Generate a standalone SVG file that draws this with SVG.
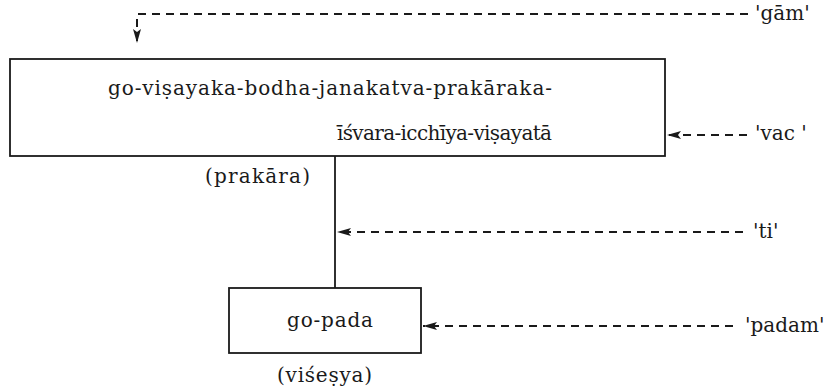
<svg xmlns="http://www.w3.org/2000/svg" width="826" height="392" viewBox="0 0 826 392">
  <style>
    .box { fill: #fff; stroke: #1a1a1a; stroke-width: 1.8; }
    .t { font-family: "DejaVu Serif", "Liberation Serif", serif; font-size: 20px; fill: #1a1a1a; }
    .dash { fill: none; stroke: #1a1a1a; stroke-width: 2; stroke-dasharray: 8 6; }
    .solid { fill: none; stroke: #1a1a1a; stroke-width: 1.8; }
  </style>
  <defs>
    <marker id="head" viewBox="0 0 14 10" refX="14" refY="5" markerWidth="14" markerHeight="10" markerUnits="userSpaceOnUse" orient="auto">
      <path d="M0,1 L14,5 L0,9 L3,5 Z" fill="#1a1a1a"/>
    </marker>
  </defs>
  <rect width="826" height="392" fill="#fff"/>

  <!-- upper node: compound predicate -->
  <g id="node-prakara">
    <rect class="box" x="10" y="59" width="655" height="97"/>
    <text class="t" font-family="DejaVu Serif, Liberation Serif, serif" x="108" y="95" textLength="444" lengthAdjust="spacing">go-viṣayaka-bodha-janakatva-prakāraka-</text>
    <text class="t" font-family="DejaVu Serif, Liberation Serif, serif" x="337" y="140" textLength="215" lengthAdjust="spacing">īśvara-icchīya-viṣayatā</text>
    <text class="t" font-family="DejaVu Serif, Liberation Serif, serif" x="205" y="183" textLength="105" lengthAdjust="spacing">(prakāra)</text>
  </g>

  <!-- lower node -->
  <g id="node-gopada">
    <rect class="box" x="229" y="288" width="192" height="65"/>
    <text class="t" font-family="DejaVu Serif, Liberation Serif, serif" x="287" y="327" textLength="86" lengthAdjust="spacing">go-pada</text>
    <text class="t" font-family="DejaVu Serif, Liberation Serif, serif" x="277" y="382" textLength="95" lengthAdjust="spacing">(viśeṣya)</text>
  </g>

  <!-- morpheme labels -->
  <g id="labels">
    <text class="t" font-family="DejaVu Serif, Liberation Serif, serif" x="755" y="20">'gām'</text>
    <text class="t" font-family="DejaVu Serif, Liberation Serif, serif" x="755" y="140">'vac '</text>
    <text class="t" font-family="DejaVu Serif, Liberation Serif, serif" x="753" y="238">'ti'</text>
    <text class="t" font-family="DejaVu Serif, Liberation Serif, serif" x="745" y="332">'padam'</text>
  </g>

  <g id="connectors">
    <line class="solid" x1="335" y1="156" x2="335" y2="288"/>
    <path class="dash" d="M748,14 H137 V43" marker-end="url(#head)"/>
    <line class="dash" x1="747" y1="135" x2="667" y2="135" marker-end="url(#head)"/>
    <line class="dash" x1="743" y1="232" x2="337" y2="232" marker-end="url(#head)"/>
    <line class="dash" x1="733" y1="326" x2="423" y2="326" marker-end="url(#head)"/>
  </g>
</svg>
